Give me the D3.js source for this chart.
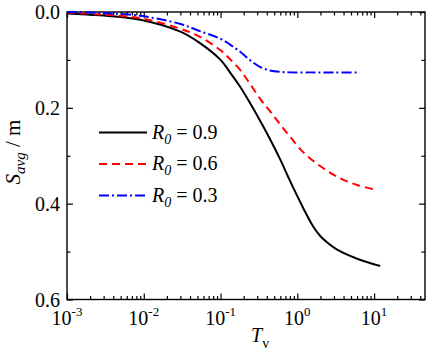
<!DOCTYPE html>
<html>
<head>
<meta charset="utf-8">
<script src="https://cdn.jsdelivr.net/npm/d3@7"></script>
<style>
  body { margin: 0; background: #fff; }
</style>
</head>
<body>
<svg id="chart" width="429" height="353"></svg>
<script>
// values
var tv09 = [0.001, 0.0027, 0.009, 0.03, 0.054, 0.1, 0.13, 0.18, 0.24, 0.33, 0.44, 0.6, 0.8, 1.2, 1.6, 2.0, 2.5, 3.3, 6.5, 12];
var s09  = [0.003, 0.007, 0.016, 0.041, 0.065, 0.100, 0.124, 0.156, 0.189, 0.228, 0.265, 0.308, 0.352, 0.410, 0.447, 0.468, 0.482, 0.496, 0.517, 0.530];

var tv06 = [0.001, 0.0027, 0.009, 0.03, 0.054, 0.1, 0.13, 0.18, 0.24, 0.33, 0.44, 0.6, 0.8, 1.2, 2.0, 3.6, 6.0, 10];
var s06  = [0.001, 0.005, 0.013, 0.035, 0.052, 0.080, 0.097, 0.121, 0.149, 0.182, 0.207, 0.235, 0.260, 0.293, 0.322, 0.347, 0.361, 0.370];

var tv03 = [0.001, 0.0027, 0.009, 0.03, 0.054, 0.1, 0.13, 0.18, 0.24, 0.33, 0.44, 0.6, 0.8, 1.5, 3.0, 6.5];
var s03  = [0.000, 0.002, 0.008, 0.025, 0.040, 0.056, 0.067, 0.083, 0.100, 0.115, 0.122, 0.125, 0.126, 0.126, 0.126, 0.126];

var seriesNames = ["0.9", "0.6", "0.3"];
var xExponents = [-3, -2, -1, 0, 1];
var yTickValues = [0.0, 0.2, 0.4, 0.6];
var yMinorValues = [0.1, 0.3, 0.5];

var series = [
  {name: seriesNames[0], t: tv09, s: s09, color: "#000000", dash: null},
  {name: seriesNames[1], t: tv06, s: s06, color: "#ff0000", dash: "8,5"},
  {name: seriesNames[2], t: tv03, s: s03, color: "#0000ff", dash: "10,3,2,3"}
];

var FONT = "Liberation Serif, DejaVu Serif, serif";
var plotL = 67, plotR = 425, plotT = 12, plotB = 299.5;

var svg = d3.select("#chart").attr("font-family", FONT);

var x = d3.scaleLog().domain([0.001, 46]).range([plotL, plotR]);
var y = d3.scaleLinear().domain([0, 0.6]).range([plotT, plotB]);

// minor / major ticks on x (bottom + top, pointing inward)
var xMinor = x.ticks().filter(function(d) {
  var l = Math.log10(d);
  return Math.abs(l - Math.round(l)) > 1e-6;
});
var xMajor = xExponents.map(function(e) { return Math.pow(10, e); });

function tickAxis(axisFn, scale, vals, size, tx, ty) {
  svg.append("g")
    .attr("transform", "translate(" + tx + "," + ty + ")")
    .call(axisFn(scale).tickValues(vals).tickSize(size).tickFormat(""))
    .call(function(g) {
      g.select(".domain").remove();
      g.selectAll("text").remove();
      g.selectAll("line").attr("stroke", "#000").attr("stroke-width", 1.2);
    });
}

tickAxis(d3.axisBottom, x, xMajor, -6, 0, plotB);
tickAxis(d3.axisBottom, x, xMinor, -3.5, 0, plotB);
tickAxis(d3.axisTop, x, xMajor, -6, 0, plotT);
tickAxis(d3.axisTop, x, xMinor, -3.5, 0, plotT);
tickAxis(d3.axisLeft, y, yTickValues, -6, plotL, 0);
tickAxis(d3.axisLeft, y, yMinorValues, -3.5, plotL, 0);
tickAxis(d3.axisRight, y, yTickValues, -6, plotR, 0);
tickAxis(d3.axisRight, y, yMinorValues, -3.5, plotR, 0);

// frame
svg.append("rect")
  .attr("x", plotL).attr("y", plotT)
  .attr("width", plotR - plotL).attr("height", plotB - plotT)
  .attr("fill", "none").attr("stroke", "#000").attr("stroke-width", 1.4);

// x tick labels 10^n
xExponents.forEach(function(e) {
  var t = svg.append("text")
    .attr("x", x(Math.pow(10, e)))
    .attr("y", 325)
    .attr("text-anchor", "middle")
    .attr("font-family", FONT)
    .attr("font-size", 20);
  t.append("tspan").text("10");
  t.append("tspan").attr("dy", -9).attr("font-size", 13).text(e < 0 ? "-" + (-e) : String(e));
});

// y tick labels
yTickValues.forEach(function(v) {
  svg.append("text")
    .attr("x", 60)
    .attr("y", y(v) + 7)
    .attr("text-anchor", "end")
    .attr("font-family", FONT)
    .attr("font-size", 20)
    .text(v.toFixed(1));
});

// axis titles
var xt = svg.append("text").attr("x", 251).attr("y", 342)
  .attr("font-family", FONT).attr("font-size", 20);
xt.append("tspan").attr("font-style", "italic").text("T");
xt.append("tspan").attr("dy", 6).attr("font-size", 14).text("v");

var yt = svg.append("text")
  .attr("transform", "translate(20,152) rotate(-90)")
  .attr("text-anchor", "middle")
  .attr("font-family", FONT)
  .attr("font-size", 21);
yt.append("tspan").attr("font-style", "italic").text("S");
yt.append("tspan").attr("dy", 5).attr("font-size", 15).attr("font-style", "italic").text("avg");
yt.append("tspan").attr("dy", -5).text(" / m");

// curves
var line = d3.line()
  .x(function(d) { return x(d[0]); })
  .y(function(d) { return y(d[1]); })
  .curve(d3.curveCatmullRom.alpha(0.5));

series.forEach(function(s) {
  var pts = s.t.map(function(t, i) { return [t, s.s[i]]; });
  svg.append("path")
    .datum(pts)
    .attr("d", line)
    .attr("fill", "none")
    .attr("stroke", s.color)
    .attr("stroke-width", 2)
    .attr("stroke-dasharray", s.dash);
});

// legend
series.forEach(function(s, i) {
  var ly = 132.5 + i * 31.5;
  svg.append("line")
    .attr("x1", 99).attr("x2", 147)
    .attr("y1", ly).attr("y2", ly)
    .attr("stroke", s.color)
    .attr("stroke-width", 2)
    .attr("stroke-dasharray", s.dash);
  var t = svg.append("text").attr("x", 152).attr("y", ly + 6)
    .attr("font-family", FONT).attr("font-size", 20);
  t.append("tspan").attr("font-style", "italic").text("R");
  t.append("tspan").attr("dy", 5).attr("font-size", 14).attr("font-style", "italic").text("0");
  t.append("tspan").attr("dy", -5).text(" = " + s.name);
});
</script>
</body>
</html>
